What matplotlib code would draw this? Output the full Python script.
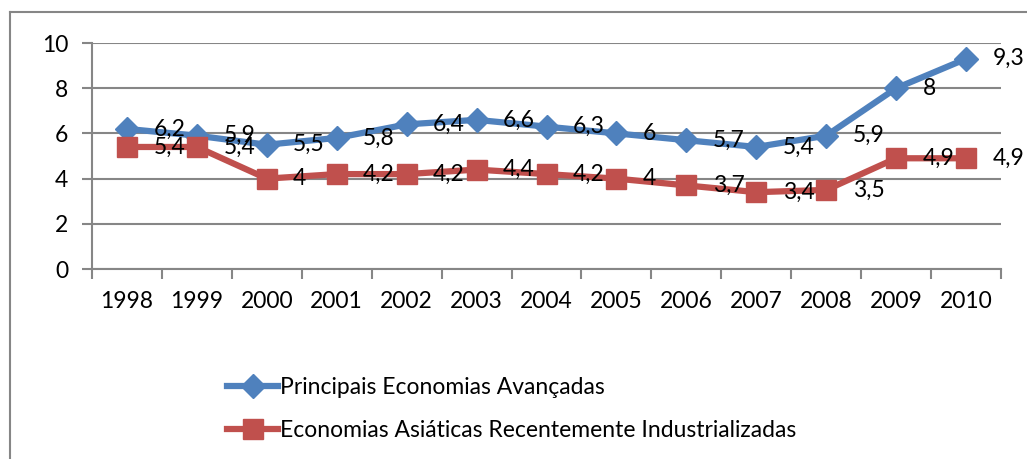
import numpy as np
import matplotlib.pyplot as plt
from matplotlib.lines import Line2D

# dados
anos = ['1998', '1999', '2000', '2001', '2002', '2003', '2004',
        '2005', '2006', '2007', '2008', '2009', '2010']
avancadas = [6.2, 5.9, 5.5, 5.8, 6.4, 6.6, 6.3, 6.0, 5.7, 5.4, 5.9, 8.0, 9.3]
asiaticas = [5.4, 5.4, 4.0, 4.2, 4.2, 4.4, 4.2, 4.0, 3.7, 3.4, 3.5, 4.9, 4.9]
nome_avancadas = 'Principais Economias Avançadas'
nome_asiaticas = 'Economias Asiáticas Recentemente Industrializadas'

plt.rcParams['font.family'] = ['Lato', 'DejaVu Sans']
cinza = '#868686'
azul = '#4F81BD'
vermelho = '#C0504D'
fs = 16.5

fig = plt.figure(figsize=(10.27, 4.59), dpi=100)
ax = fig.add_axes([0.0896, 0.4139, 0.9747 - 0.0896, 0.9063 - 0.4139])

x = np.arange(len(anos))
ax.plot(x, avancadas, color=azul, lw=4.5, marker='D', ms=12, label=nome_avancadas, zorder=3)
ax.plot(x, asiaticas, color=vermelho, lw=4.5, marker='s', ms=14, label=nome_asiaticas, zorder=3)

# rótulos de dados à direita dos pontos
def rotulo(v):
    s = ('%g' % v).replace('.', ',')
    return s

for xi, v in zip(x, avancadas):
    ax.annotate(rotulo(v), (xi, v), xytext=(19, 0), textcoords='offset points',
                va='center', ha='left', fontsize=fs, zorder=4)
for xi, v in zip(x, asiaticas):
    ax.annotate(rotulo(v), (xi, v), xytext=(19, 0), textcoords='offset points',
                va='center', ha='left', fontsize=fs, zorder=4)

ax.set_xlim(-0.5, len(anos) - 0.5)
ax.set_ylim(0, 10)
ax.set_yticks([0, 2, 4, 6, 8, 10])
ax.set_xticks(x)
ax.set_xticklabels(anos)
ax.set_xticks(np.arange(-0.5, len(anos)), minor=True)
ax.tick_params(axis='x', which='major', length=0, pad=16, labelsize=fs)
ax.tick_params(axis='x', which='minor', length=7, width=1.5, color=cinza)
ax.tick_params(axis='y', length=7, width=1.5, color=cinza, pad=10, labelsize=fs)

ax.grid(axis='y', color=cinza, lw=1.5)
ax.set_axisbelow(True)
for s in ['top', 'right']:
    ax.spines[s].set_visible(False)
for s in ['left', 'bottom']:
    ax.spines[s].set_color(cinza)
    ax.spines[s].set_linewidth(1.5)

# legenda
ax.legend(loc='upper left', bbox_to_anchor=(216 / 1027, 1 - 366 / 459),
          bbox_transform=fig.transFigure, frameon=False, fontsize=fs,
          handlelength=2.2, handletextpad=0.08, labelspacing=0.95, borderpad=0)

# moldura do gráfico
fig.add_artist(Line2D([10 / 1027, 10 / 1027], [0, 1 - 12 / 459], color=cinza, lw=1.5))
fig.add_artist(Line2D([10 / 1027, 1], [1 - 12 / 459, 1 - 12 / 459], color=cinza, lw=1.5))

plt.savefig('out.png', dpi=100)
